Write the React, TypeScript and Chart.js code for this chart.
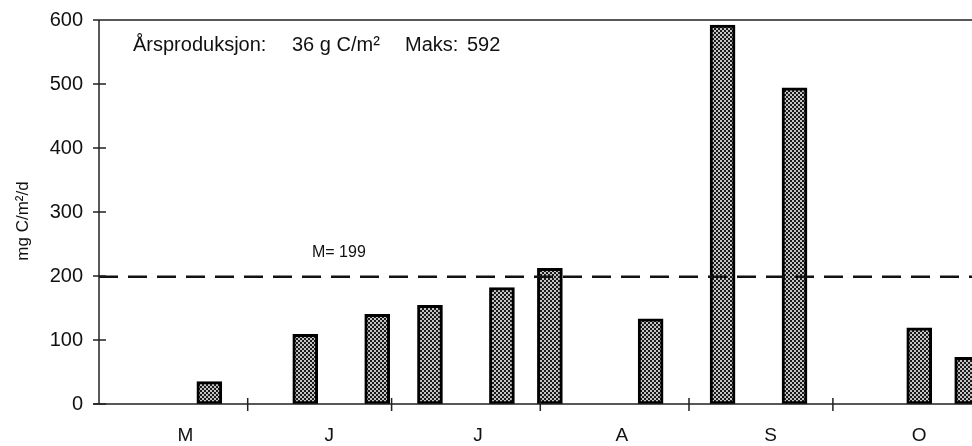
import React, { useEffect, useRef } from "react";
import { Chart, registerables } from "chart.js";

Chart.register(...registerables);

// ---- data ----
const MONTH_LABELS = ["M", "J", "J", "A", "S", "O"];
const MONTH_LABEL_DAYS = [18, 48, 79, 109, 140, 171]; // days after 1 May
const MONTH_START_DAYS = [31, 61, 92, 123, 153];
const SAMPLE_DAYS = [23, 43, 58, 69, 84, 94, 115, 130, 145, 171, 181];
const PRODUCTION = [35, 109, 140, 154, 182, 212, 133, 592, 494, 119, 73];
const MEAN = 199;
const X_MAX = 182;
const Y_MAX = 600;
const Y_STEP = 100;
const TITLE_PARTS = ["Årsproduksjon:", "36 g C/m²", "Maks:", "592"];
const MEAN_LABEL = "M= 199";
const Y_TITLE = "mg C/m²/d";

const FONT = "'Liberation Sans', Arial, sans-serif";

function makePattern(): CanvasPattern | string {
  const c = document.createElement("canvas");
  c.width = 4;
  c.height = 4;
  const g = c.getContext("2d");
  if (!g) return "#555";
  g.fillStyle = "#1a1a1a";
  g.fillRect(0, 0, 4, 4);
  g.fillStyle = "#c4c4c4";
  g.fillRect(0, 0, 2, 2);
  g.fillRect(2, 2, 2, 2);
  const p = g.createPattern(c, "repeat");
  return p || "#555";
}

const decorPlugin = {
  id: "decor",
  afterDatasetsDraw(chart: any) {
    const { ctx, chartArea, scales } = chart;
    const xs = scales.x;
    const ys = scales.y;
    const L = chartArea.left;
    const R = chartArea.right;
    const T = chartArea.top;
    const B = chartArea.bottom;
    ctx.save();
    ctx.strokeStyle = "#222";
    ctx.lineWidth = 1.5;
    ctx.beginPath();
    ctx.moveTo(L, T);
    ctx.lineTo(R, T);
    ctx.moveTo(L, T);
    ctx.lineTo(L, B);
    ctx.moveTo(L - 6, B);
    ctx.lineTo(R, B);
    ctx.stroke();
    ctx.beginPath();
    for (let v = 0; v <= Y_MAX; v += Y_STEP) {
      const py = ys.getPixelForValue(v);
      ctx.moveTo(L - 6, py);
      ctx.lineTo(v === Y_MAX ? L : L + 7, py);
    }
    for (const d of MONTH_START_DAYS) {
      const px = xs.getPixelForValue(d);
      ctx.moveTo(px, B - 6);
      ctx.lineTo(px, B + 7);
    }
    ctx.stroke();

    ctx.fillStyle = "#111";
    ctx.font = `20px ${FONT}`;
    ctx.textBaseline = "alphabetic";
    ctx.textAlign = "left";
    const titleX = [133, 292, 405, 467];
    TITLE_PARTS.forEach((t, i) => ctx.fillText(t, titleX[i], 51));

    ctx.font = `16px ${FONT}`;
    ctx.fillText(MEAN_LABEL, 312, ys.getPixelForValue(MEAN) - 20);

    ctx.save();
    ctx.translate(28, 221);
    ctx.rotate(-Math.PI / 2);
    ctx.textAlign = "center";
    ctx.font = `17px ${FONT}`;
    ctx.fillText(Y_TITLE, 0, 0);
    ctx.restore();

    ctx.restore();
  },
};

export default function App() {
  const ref = useRef<HTMLCanvasElement | null>(null);
  useEffect(() => {
    if (!ref.current) return;
    const pattern = makePattern();
    const chart = new Chart(ref.current, {
      type: "bar",
      data: {
        datasets: [
          {
            type: "line",
            data: [
              { x: 0, y: MEAN },
              { x: X_MAX, y: MEAN },
            ],
            borderColor: "#111",
            borderWidth: 2.5,
            borderDash: [19, 10],
            pointRadius: 0,
            fill: false,
            order: 0,
          } as any,
          {
            type: "bar",
            data: SAMPLE_DAYS.map((d, i) => ({ x: d, y: PRODUCTION[i] })),
            backgroundColor: pattern as any,
            borderColor: "#000",
            borderWidth: 3,
            borderSkipped: false,
            barThickness: 25,
            order: 1,
          } as any,
        ],
      },
      options: {
        responsive: false,
        animation: false,
        devicePixelRatio: 1,
        layout: { padding: { top: 20, right: 0, left: 0, bottom: 0 } },
        plugins: {
          legend: { display: false },
          tooltip: { enabled: false },
        },
        scales: {
          x: {
            type: "linear",
            offset: false,
            min: 0,
            max: X_MAX,
            grid: { display: false, drawTicks: false, offset: false },
            border: { display: false },
            afterBuildTicks: (scale: any) => {
              scale.ticks = MONTH_LABEL_DAYS.map((v) => ({ value: v }));
            },
            afterFit: (scale: any) => {
              scale.height = 42;
              scale.paddingLeft = 0;
              scale.paddingRight = 0;
            },
            ticks: {
              autoSkip: false,
              maxRotation: 0,
              padding: 20,
              color: "#111",
              font: { family: FONT, size: 19 },
              callback: (_v: any, i: number) => MONTH_LABELS[i],
            },
          },
          y: {
            min: 0,
            max: Y_MAX,
            grid: { display: false, drawTicks: false },
            border: { display: false },
            afterFit: (scale: any) => {
              scale.width = 99;
              scale.paddingTop = 0;
              scale.paddingBottom = 0;
            },
            ticks: {
              stepSize: Y_STEP,
              padding: 16,
              color: "#111",
              font: { family: FONT, size: 20 },
            },
          },
        },
      },
      plugins: [decorPlugin],
    });
    return () => chart.destroy();
  }, []);
  return (
    <div style={{ position: "absolute", left: 0, top: 0, width: 972, height: 446, background: "#fff" }}>
      <canvas ref={ref} width={972} height={446} />
    </div>
  );
}
